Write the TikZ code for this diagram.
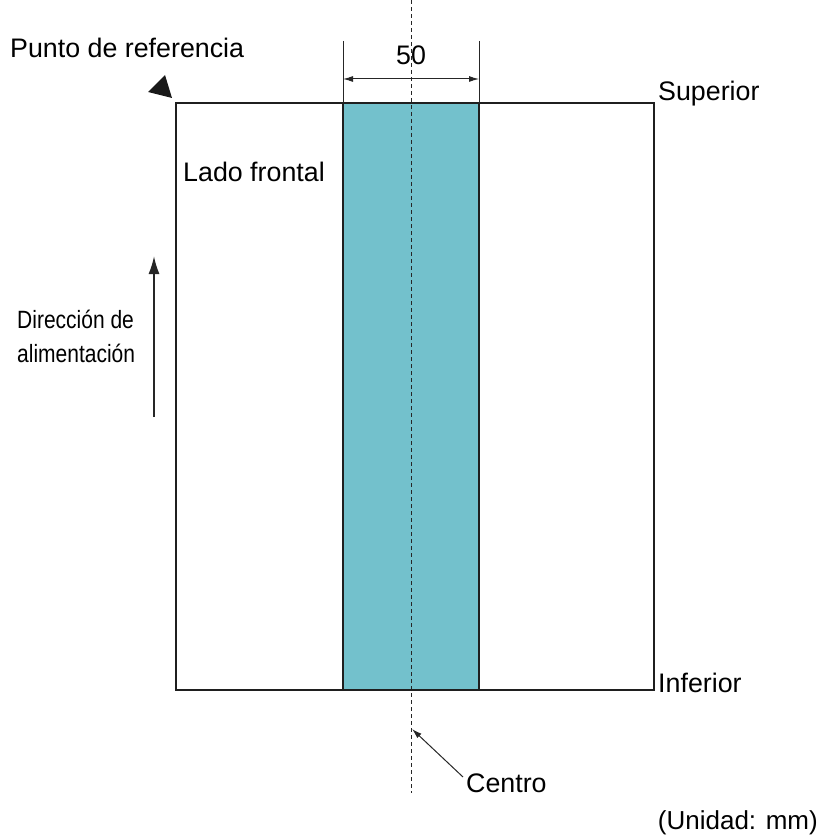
\documentclass[tikz,border=0pt]{standalone}
\usepackage{fontspec}
\setmainfont{Liberation Sans}
\newfontfamily\narrowfont[FakeStretch=0.84]{Liberation Sans}
\usetikzlibrary{arrows.meta}
\definecolor{strip}{RGB}{115,193,204}
\begin{document}
\begin{tikzpicture}[x=1pt,y=-1pt,>={Latex[length=10pt,width=6pt]}]
\useasboundingbox (0,0) rectangle (825,837);
\fontsize{26.8}{32}\selectfont
\tikzset{lbl/.style={anchor=base west,inner sep=0pt},
	thin line/.style={line width=1pt,color=black!85}}
% sheet and test strip
\def\left{176}
\def\right{654}
\def\top{103}
\def\bottom{690}
\def\middle{411}
\fill[color=strip] (343,\top) rectangle (479,\bottom);
\draw[thin line,dash pattern=on 4pt off 3pt] (\middle,0)--(\middle,793);
\draw[line width=2.2pt,color=black!88] (\left,\top) rectangle (\right,\bottom);
\draw[line width=2.2pt,color=black!88] (343,\top)--(343,\bottom);
\draw[line width=2.2pt,color=black!88] (479,\top)--(479,\bottom);
% dimension 50
\draw[thin line] (343,41)--(343,\top);
\draw[thin line] (479,41)--(479,\top);
\coordinate (dimL) at (343,79);
\coordinate (dimR) at (479,79);
\draw[<->,thin line] (dimL)--(dimR);
\node[anchor=base,inner sep=0pt] (dim) at (\middle,65) {50};
% reference point
\node[lbl] (punto) at (10,58) {Punto de referencia};
\fill[color=black!90] (148,92)--(165,75)--(172,98)--cycle;
\node[lbl] (superior) at (658,101) {Superior};
\node[lbl] (inferior) at (658,692) {Inferior};
\node[lbl] (lado) at (183,182) {Lado frontal};
% feed direction
\coordinate (feedA) at (154,417);
\coordinate (feedB) at (154,256);
\draw[-{Latex[length=18pt,width=11pt]},line width=1.8pt,color=black!85] (feedA)--(feedB);
\node[lbl,font=\narrowfont\fontsize{25}{30}\selectfont] (dir) at (17,328) {Dirección de};
\node[lbl,font=\narrowfont\fontsize{25}{30}\selectfont] (alim) at (17,362) {alimentación};
% centre
\node[lbl] (centro) at (466,792) {Centro};
\coordinate (ctail) at (463,777);
\coordinate (ctip) at (412,729);
\draw[->,thin line] (ctail)--(ctip);
\node[anchor=base east,inner sep=0pt,font=\fontsize{26}{31}\selectfont] (unidad) at (818,829) {(Unidad: mm)};
\end{tikzpicture}
\end{document}
